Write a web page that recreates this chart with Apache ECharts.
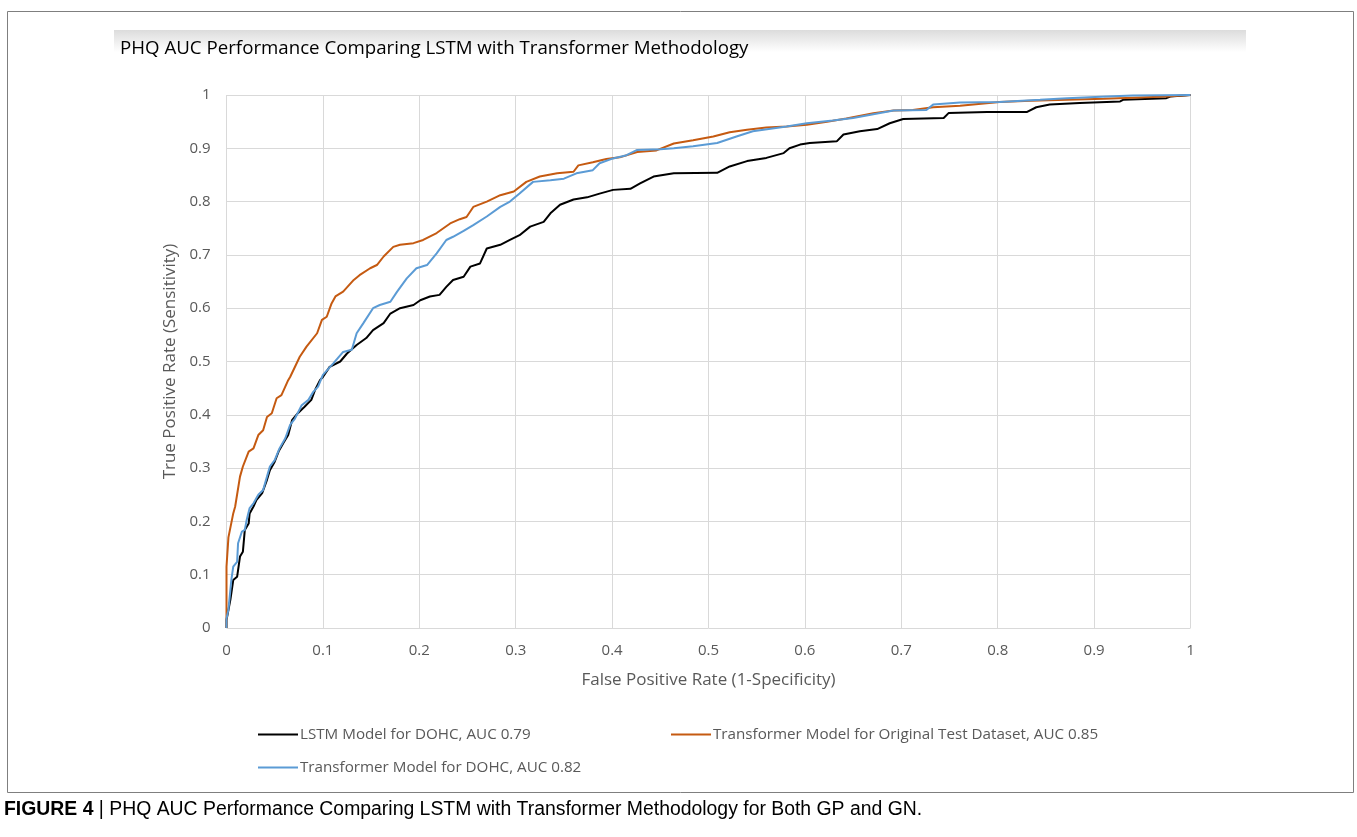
<!DOCTYPE html>
<html>
<head>
<meta charset="utf-8">
<script src="https://cdn.jsdelivr.net/npm/echarts@6/dist/echarts.min.js"></script>
<style>
html,body{margin:0;padding:0;background:#fff;}
#chart{width:1357px;height:837px;}
</style>
</head>
<body>
<div id="chart"></div>
<script>
const chartTitle = 'PHQ AUC Performance Comparing LSTM with Transformer Methodology';
const captionBold = 'FIGURE 4';
const captionText = ' | PHQ AUC Performance Comparing LSTM with Transformer Methodology for Both GP and GN.';
const xAxisName = 'False Positive Rate (1-Specificity)';
const yAxisName = 'True Positive Rate (Sensitivity)';
const xTicks = [0, 0.1, 0.2, 0.3, 0.4, 0.5, 0.6, 0.7, 0.8, 0.9, 1];
const yTicks = [0, 0.1, 0.2, 0.3, 0.4, 0.5, 0.6, 0.7, 0.8, 0.9, 1];
const seriesNames = ['LSTM Model for DOHC, AUC 0.79', 'Transformer Model for Original Test Dataset, AUC 0.85', 'Transformer Model for DOHC, AUC 0.82'];

const lstmDOHC = [[0,0],[0,0.015],[0.004,0.053],[0.007,0.09],[0.011,0.096],[0.014,0.134],[0.017,0.143],[0.019,0.184],[0.023,0.196],[0.024,0.215],[0.028,0.228],[0.031,0.24],[0.037,0.253],[0.042,0.278],[0.045,0.296],[0.05,0.312],[0.054,0.331],[0.059,0.347],[0.064,0.362],[0.068,0.39],[0.074,0.403],[0.081,0.415],[0.088,0.428],[0.092,0.447],[0.097,0.465],[0.1,0.471],[0.107,0.49],[0.118,0.5],[0.125,0.515],[0.135,0.531],[0.145,0.544],[0.152,0.559],[0.163,0.572],[0.17,0.59],[0.18,0.6],[0.194,0.606],[0.201,0.615],[0.211,0.622],[0.221,0.625],[0.228,0.64],[0.235,0.653],[0.246,0.659],[0.253,0.678],[0.263,0.684],[0.27,0.712],[0.284,0.719],[0.294,0.728],[0.304,0.737],[0.315,0.753],[0.329,0.762],[0.336,0.778],[0.346,0.794],[0.36,0.804],[0.374,0.808],[0.387,0.815],[0.401,0.822],[0.419,0.824],[0.429,0.834],[0.443,0.847],[0.464,0.853],[0.509,0.854],[0.522,0.866],[0.54,0.876],[0.56,0.882],[0.578,0.891],[0.584,0.9],[0.595,0.907],[0.605,0.91],[0.633,0.913],[0.64,0.926],[0.657,0.932],[0.675,0.936],[0.688,0.947],[0.702,0.955],[0.744,0.957],[0.749,0.966],[0.789,0.968],[0.83,0.968],[0.84,0.977],[0.854,0.982],[0.885,0.985],[0.927,0.988],[0.93,0.991],[0.975,0.994],[0.979,0.997],[1,1]];

const transformerOriginal = [[0,0],[0,0.115],[0.002,0.17],[0.007,0.215],[0.009,0.228],[0.014,0.284],[0.017,0.303],[0.023,0.331],[0.028,0.337],[0.033,0.362],[0.038,0.371],[0.042,0.396],[0.047,0.403],[0.052,0.431],[0.057,0.437],[0.064,0.465],[0.066,0.471],[0.076,0.509],[0.083,0.528],[0.094,0.553],[0.099,0.578],[0.104,0.584],[0.109,0.609],[0.113,0.622],[0.121,0.631],[0.132,0.653],[0.138,0.662],[0.149,0.675],[0.156,0.681],[0.163,0.697],[0.173,0.715],[0.18,0.719],[0.194,0.722],[0.204,0.728],[0.218,0.741],[0.232,0.759],[0.242,0.767],[0.249,0.771],[0.256,0.79],[0.27,0.8],[0.284,0.812],[0.298,0.819],[0.311,0.837],[0.325,0.847],[0.343,0.853],[0.36,0.856],[0.365,0.868],[0.38,0.874],[0.394,0.88],[0.408,0.883],[0.426,0.893],[0.446,0.896],[0.464,0.909],[0.484,0.915],[0.505,0.922],[0.522,0.93],[0.54,0.935],[0.56,0.939],[0.581,0.941],[0.602,0.944],[0.623,0.95],[0.643,0.956],[0.671,0.966],[0.692,0.971],[0.712,0.972],[0.733,0.977],[0.761,0.98],[0.802,0.987],[0.834,0.989],[0.872,0.991],[0.91,0.993],[0.941,0.995],[0.975,0.997],[1,1]];

const transformerDOHC = [[0,0],[0,0.018],[0.002,0.034],[0.005,0.09],[0.007,0.115],[0.011,0.124],[0.012,0.159],[0.016,0.181],[0.019,0.184],[0.021,0.203],[0.024,0.225],[0.028,0.234],[0.033,0.25],[0.038,0.259],[0.042,0.284],[0.045,0.303],[0.05,0.315],[0.055,0.337],[0.061,0.356],[0.066,0.381],[0.071,0.393],[0.078,0.418],[0.085,0.428],[0.09,0.443],[0.095,0.453],[0.1,0.475],[0.111,0.497],[0.121,0.518],[0.13,0.522],[0.135,0.553],[0.142,0.572],[0.152,0.6],[0.159,0.606],[0.17,0.612],[0.177,0.631],[0.187,0.656],[0.197,0.675],[0.208,0.681],[0.218,0.703],[0.228,0.728],[0.235,0.734],[0.246,0.745],[0.256,0.756],[0.27,0.772],[0.284,0.79],[0.294,0.8],[0.304,0.815],[0.318,0.837],[0.336,0.84],[0.35,0.843],[0.363,0.853],[0.38,0.859],[0.387,0.872],[0.401,0.881],[0.415,0.887],[0.426,0.897],[0.45,0.898],[0.464,0.9],[0.484,0.904],[0.509,0.91],[0.529,0.922],[0.546,0.932],[0.581,0.941],[0.602,0.947],[0.629,0.952],[0.65,0.957],[0.671,0.964],[0.692,0.971],[0.726,0.972],[0.733,0.982],[0.761,0.986],[0.802,0.987],[0.844,0.991],[0.872,0.994],[0.913,0.997],[0.94,0.999],[1,1]];

const colors = ['#000000', '#C55A11', '#5B9BD5'];
const seriesData = [lstmDOHC, transformerOriginal, transformerDOHC];

const FONT = '"Open Sans", "Noto Sans", sans-serif';
const chart = echarts.init(document.getElementById('chart'), null, {renderer: 'canvas'});

const legendPos = [{left: 253, top: 722}, {left: 666, top: 722}, {left: 253, top: 755}];

const option = {
  backgroundColor: '#ffffff',
  animation: false,
  grid: {left: 226.5, right: 166.5, top: 95, bottom: 209, containLabel: false},
  legend: seriesNames.map((n, i) => ({
    data: [n], left: legendPos[i].left, top: legendPos[i].top,
    icon: 'rect', itemWidth: 40, itemHeight: 2, itemGap: 0,
    textStyle: {fontFamily: FONT, fontSize: 15.2, color: '#595959', padding: [0, 0, 0, -3]},
    selectedMode: false
  })),
  xAxis: {
    type: 'value', min: 0, max: 1, interval: 0.1,
    name: xAxisName, nameLocation: 'middle', nameGap: 44,
    nameTextStyle: {fontFamily: FONT, fontSize: 17, color: '#595959'},
    axisLine: {show: false}, axisTick: {show: false},
    axisLabel: {fontFamily: FONT, fontSize: 15, color: '#595959', margin: 15,
      formatter: v => { const t = xTicks.find(k => Math.abs(k - v) < 1e-9); return t === undefined ? '' : String(t); }},
    splitLine: {show: true, lineStyle: {color: '#d9d9d9', width: 1}}
  },
  yAxis: {
    type: 'value', min: 0, max: 1, interval: 0.1,
    name: yAxisName, nameLocation: 'middle', nameGap: 46, nameRotate: 90,
    nameTextStyle: {fontFamily: FONT, fontSize: 17, color: '#595959'},
    axisLine: {show: false}, axisTick: {show: false},
    axisLabel: {fontFamily: FONT, fontSize: 15, color: '#595959', margin: 16,
      formatter: v => { const t = yTicks.find(k => Math.abs(k - v) < 1e-9); return t === undefined ? '' : String(t); }},
    splitLine: {show: true, lineStyle: {color: '#d9d9d9', width: 1}}
  },
  series: seriesNames.map((n, i) => ({
    name: n, type: 'line', data: seriesData[i],
    showSymbol: false, symbol: 'none', color: colors[i],
    lineStyle: {color: colors[i], width: 2}
  })),
  graphic: [
    {type: 'rect', silent: true, z: -1, shape: {x: 7.5, y: 11.5, width: 1346, height: 781},
      style: {fill: 'none', stroke: '#7f7f7f', lineWidth: 1}},
    {type: 'rect', silent: true, z: -1, shape: {x: 114, y: 30, width: 1132, height: 22},
      style: {fill: new echarts.graphic.LinearGradient(0, 0, 0, 1, [{offset: 0, color: '#dcdcdc'}, {offset: 1, color: '#ffffff'}])}},
    {type: 'text', left: 120, top: 39, silent: true,
      style: {text: chartTitle, font: '18.7px ' + FONT, fill: '#000000'}},
    {type: 'text', left: 4, top: 800, silent: true,
      style: {text: '{b|' + captionBold + '}{r|' + captionText + '}',
        rich: {b: {fontFamily: '"Liberation Sans", Arial, sans-serif', fontWeight: 'bold', fontSize: 19.4, fill: '#000'},
               r: {fontFamily: '"Liberation Sans", Arial, sans-serif', fontSize: 19.4, fill: '#000'}}}}
  ]
};
chart.setOption(option);
</script>
</body>
</html>
